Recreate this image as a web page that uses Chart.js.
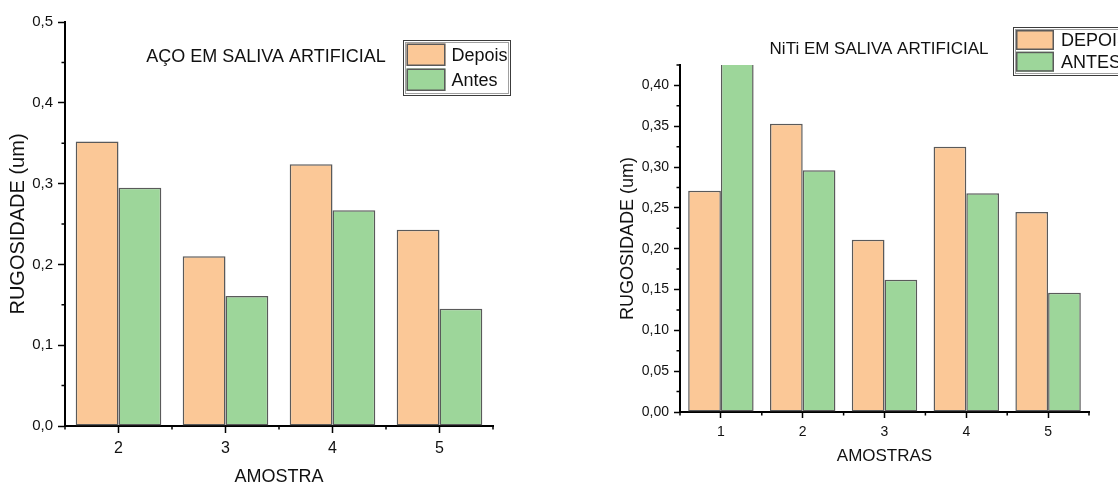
<!DOCTYPE html>
<html>
<head>
<meta charset="utf-8">
<script src="https://cdn.jsdelivr.net/npm/chart.js@4.4.1/dist/chart.umd.min.js"></script>
<style>
  html, body { margin: 0; padding: 0; background: #fff; overflow: hidden; }
  #wrap { position: relative; width: 1118px; height: 486px; }
  #aco { position: absolute; left: 0; top: 0; }
  #niti { position: absolute; left: 560px; top: 0; }
</style>
</head>
<body>
<div id="wrap">
  <canvas id="aco" width="560" height="486"></canvas>
  <canvas id="niti" width="558" height="486"></canvas>
</div>
<script>
// ---- Roughness of steel (AÇO) samples in artificial saliva ----
const acoAmostras = ['2', '3', '4', '5'];
const acoDepois   = [0.352, 0.210, 0.324, 0.243];
const acoAntes    = [0.295, 0.161, 0.267, 0.145];
const acoYTicks   = [0, 0.1, 0.2, 0.3, 0.4, 0.5];
const acoYMinor   = [0.05, 0.15, 0.25, 0.35, 0.45];

// ---- Roughness of NiTi samples in artificial saliva ----
const nitiAmostras = ['1', '2', '3', '4', '5'];
const nitiDepois   = [0.271, 0.353, 0.211, 0.325, 0.245];
const nitiAntes    = [0.440, 0.296, 0.162, 0.268, 0.146];
const nitiYTicks   = [0, 0.05, 0.10, 0.15, 0.20, 0.25, 0.30, 0.35, 0.40];
const nitiYMinor   = [0.025, 0.075, 0.125, 0.175, 0.225, 0.275, 0.325, 0.375, 0.425];

const FONT = "'Liberation Sans', Arial, Helvetica, sans-serif";
const COL_DEPOIS = '#FBC897';
const COL_ANTES  = '#9DD69A';
const EDGE       = '#5a5a5a';
const INK        = '#111';

Chart.defaults.font.family = FONT;

// short unlabeled ticks between the major ones, placed through the chart's scales
const minorTicks = {
  id: 'minorTicks',
  afterDraw(chart, args, o) {
    const { ctx, chartArea: a, scales: { x, y } } = chart;
    ctx.save();
    ctx.strokeStyle = '#000';
    ctx.lineWidth = 1.5;
    ctx.beginPath();
    (o.yValues || []).forEach(v => {
      const py = y.getPixelForValue(v);
      ctx.moveTo(a.left - o.len, py);
      ctx.lineTo(a.left, py);
    });
    for (let i = 0; i <= x.ticks.length; i++) {
      const px = x.getPixelForValue(i - 0.5);
      ctx.moveTo(px, a.bottom);
      ctx.lineTo(px, a.bottom + o.len);
    }
    ctx.stroke();
    ctx.restore();
  }
};

// framed legend box inside the plot
const boxLegend = {
  id: 'boxLegend',
  afterDraw(chart, args, o) {
    const ctx = chart.ctx;
    ctx.save();
    ctx.fillStyle = '#fff';
    ctx.fillRect(o.x, o.y, o.w, o.h);
    ctx.lineWidth = 1;
    ctx.strokeStyle = '#3c3c3c';
    ctx.strokeRect(o.x + 0.5, o.y + 0.5, o.w, o.h);
    ctx.strokeStyle = '#a0a0a0';
    ctx.strokeRect(o.x + 2.5, o.y + 2.5, o.w - 4, o.h - 4);
    ctx.font = o.size + 'px ' + FONT;
    ctx.textBaseline = 'middle';
    ctx.textAlign = 'left';
    chart.data.datasets.forEach((ds, i) => {
      const sx = o.x + o.pad;
      const sy = o.y + o.pad + i * o.row;
      ctx.fillStyle = ds.backgroundColor;
      ctx.fillRect(sx, sy, o.sw, o.sh);
      ctx.strokeStyle = ds.borderColor;
      ctx.lineWidth = 1.5;
      ctx.strokeRect(sx + 0.75, sy + 0.75, o.sw - 1.5, o.sh - 1.5);
      ctx.fillStyle = INK;
      ctx.fillText(ds.label, o.x + o.tx, sy + o.sh / 2 + 1);
    });
    ctx.restore();
  }
};

// chart caption written inside the plot area
const plotCaption = {
  id: 'plotCaption',
  afterDraw(chart, args, o) {
    const ctx = chart.ctx;
    ctx.save();
    ctx.font = o.size + 'px ' + FONT;
    ctx.fillStyle = INK;
    ctx.textAlign = 'center';
    ctx.textBaseline = 'middle';
    ctx.fillText(o.text, o.x, o.y);
    ctx.restore();
  }
};

function buildChart(canvas, cats, depois, antes, c) {
  const fmt = v => Number(v).toFixed(c.dec).replace('.', ',');
  return new Chart(canvas, {
    type: 'bar',
    data: {
      labels: cats,
      datasets: [
        { label: c.names[0], data: depois, backgroundColor: COL_DEPOIS, borderColor: EDGE,
          borderWidth: 1.5, borderSkipped: false, categoryPercentage: 0.8, barPercentage: 1.0, clip: 0 },
        { label: c.names[1], data: antes, backgroundColor: COL_ANTES, borderColor: EDGE,
          borderWidth: 1.5, borderSkipped: false, categoryPercentage: 0.8, barPercentage: 1.0, clip: 0 }
      ]
    },
    options: {
      responsive: false,
      animation: false,
      devicePixelRatio: 1,
      layout: { padding: { left: 0, top: c.top, right: c.right, bottom: 0 } },
      plugins: {
        legend: { display: false },
        tooltip: { enabled: false },
        title: { display: false },
        minorTicks: { yValues: c.yMinor, len: 3.5 },
        boxLegend: c.legend,
        plotCaption: c.caption
      },
      scales: {
        x: {
          offset: true,
          grid: { display: true, offset: false, drawOnChartArea: false, drawTicks: true,
                  tickLength: c.xTickLen, tickColor: '#000', tickWidth: 1.5 },
          border: { display: true, color: '#000', width: 2 },
          ticks: { color: INK, font: { size: c.xFont }, padding: c.xPad, maxRotation: 0 },
          title: { display: true, text: c.xTitle, color: INK,
                   font: { size: c.xTitleSize, lineHeight: 1 }, padding: { top: 0, bottom: c.xTitlePad } },
          afterFit(s) { s.height = c.xHeight; }
        },
        y: {
          min: 0,
          max: c.yMax,
          afterBuildTicks(s) { s.ticks = c.yTicks.map(v => ({ value: v })); },
          grid: { display: true, drawOnChartArea: false, drawTicks: true,
                  tickLength: c.yTickLen, tickColor: '#000', tickWidth: 1.5 },
          border: { display: true, color: '#000', width: 2 },
          ticks: { color: INK, font: { size: c.yFont }, padding: c.yPad, callback: fmt },
          title: { display: true, text: 'RUGOSIDADE (um)', color: INK,
                   font: { size: c.yTitleSize, lineHeight: 1.2 }, padding: { top: c.yTitlePad, bottom: 0 } },
          afterFit(s) { s.width = c.yWidth; }
        }
      }
    },
    plugins: [minorTicks, boxLegend, plotCaption]
  });
}

buildChart(document.getElementById('aco'), acoAmostras, acoDepois, acoAntes, {
  names: ['Depois', 'Antes'],
  dec: 1, yMax: 0.5, yTicks: acoYTicks, yMinor: acoYMinor,
  top: 22, right: 67, yWidth: 65, xHeight: 60,
  xTickLen: 7, yTickLen: 7, xFont: 16, yFont: 15, xPad: 6, yPad: 5,
  xTitle: 'AMOSTRA', xTitleSize: 18, xTitlePad: 0,
  yTitleSize: 20, yTitlePad: 6,
  legend: { x: 403, y: 40, w: 107, h: 55, pad: 3.5, sw: 39, sh: 22.5, row: 25, tx: 48.5, size: 18 },
  caption: { text: 'AÇO EM SALIVA ARTIFICIAL', x: 266, y: 57, size: 18 }
});

buildChart(document.getElementById('niti'), nitiAmostras, nitiDepois, nitiAntes, {
  names: ['DEPOIS', 'ANTES'],
  dec: 2, yMax: 0.425, yTicks: nitiYTicks, yMinor: nitiYMinor,
  top: 65, right: 29, yWidth: 120, xHeight: 74,
  xTickLen: 6, yTickLen: 6, xFont: 14, yFont: 14, xPad: 6, yPad: 5,
  xTitle: 'AMOSTRAS', xTitleSize: 17, xTitlePad: 21,
  yTitleSize: 18, yTitlePad: 57,
  legend: { x: 453, y: 27, w: 130, h: 48, pad: 3, sw: 38, sh: 20, row: 21.7, tx: 48, size: 18 },
  caption: { text: 'NiTi EM SALIVA ARTIFICIAL', x: 319, y: 49, size: 17 }
});
</script>
</body>
</html>
